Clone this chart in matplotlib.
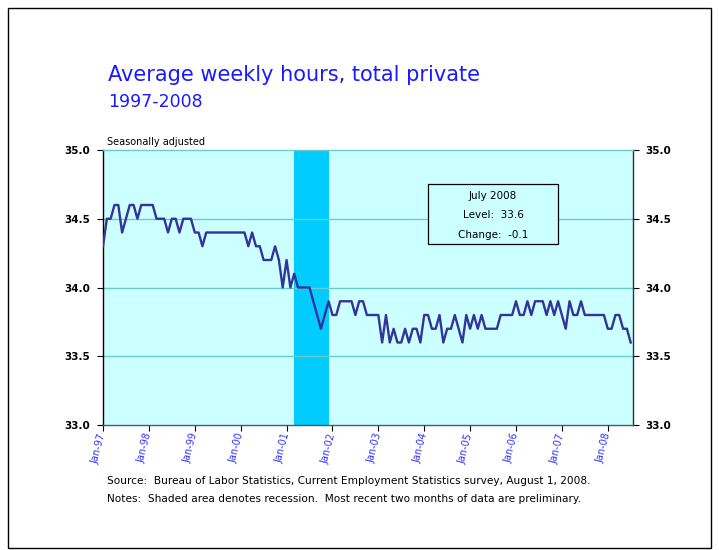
import matplotlib
matplotlib.use('Agg')
import matplotlib.pyplot as plt
from matplotlib.patches import Rectangle

# monthly average weekly hours, Jan 1997 - Jul 2008 (seasonally adjusted)
hours_1997 = [34.3, 34.5, 34.5, 34.6, 34.6, 34.4, 34.5, 34.6, 34.6, 34.5, 34.6, 34.6]
hours_1998 = [34.6, 34.6, 34.5, 34.5, 34.5, 34.4, 34.5, 34.5, 34.4, 34.5, 34.5, 34.5]
hours_1999 = [34.4, 34.4, 34.3, 34.4, 34.4, 34.4, 34.4, 34.4, 34.4, 34.4, 34.4, 34.4]
hours_2000 = [34.4, 34.4, 34.3, 34.4, 34.3, 34.3, 34.2, 34.2, 34.2, 34.3, 34.2, 34.0]
hours_2001 = [34.2, 34.0, 34.1, 34.0, 34.0, 34.0, 34.0, 33.9, 33.8, 33.7, 33.8, 33.9]
hours_2002 = [33.8, 33.8, 33.9, 33.9, 33.9, 33.9, 33.8, 33.9, 33.9, 33.8, 33.8, 33.8]
hours_2003 = [33.8, 33.6, 33.8, 33.6, 33.7, 33.6, 33.6, 33.7, 33.6, 33.7, 33.7, 33.6]
hours_2004 = [33.8, 33.8, 33.7, 33.7, 33.8, 33.6, 33.7, 33.7, 33.8, 33.7, 33.6, 33.8]
hours_2005 = [33.7, 33.8, 33.7, 33.8, 33.7, 33.7, 33.7, 33.7, 33.8, 33.8, 33.8, 33.8]
hours_2006 = [33.9, 33.8, 33.8, 33.9, 33.8, 33.9, 33.9, 33.9, 33.8, 33.9, 33.8, 33.9]
hours_2007 = [33.8, 33.7, 33.9, 33.8, 33.8, 33.9, 33.8, 33.8, 33.8, 33.8, 33.8, 33.8]
hours_2008 = [33.7, 33.7, 33.8, 33.8, 33.7, 33.7, 33.6]

hours = (hours_1997 + hours_1998 + hours_1999 + hours_2000 + hours_2001 + hours_2002
         + hours_2003 + hours_2004 + hours_2005 + hours_2006 + hours_2007 + hours_2008)
months = list(range(len(hours)))

tick_months = list(range(0, len(hours), 12))
tick_labels = ['Jan-97', 'Jan-98', 'Jan-99', 'Jan-00', 'Jan-01', 'Jan-02',
               'Jan-03', 'Jan-04', 'Jan-05', 'Jan-06', 'Jan-07', 'Jan-08']
y_ticks = [33.0, 33.5, 34.0, 34.5, 35.0]

# recession Mar 2001 - Nov 2001
recession_start = 50
recession_end = 59

box_lines = ['July 2008', 'Level:  33.6', 'Change:  -0.1']

W, H = 719, 550
fig = plt.figure(figsize=(W / 100, H / 100), dpi=100)
fig.patch.set_facecolor('white')

# outer frame
fig.patches.append(Rectangle((8 / W, 2 / H), 703 / W, 540 / H, transform=fig.transFigure,
                             fill=False, edgecolor='black', linewidth=1.0))

ax = fig.add_axes([103 / W, 1 - 425 / H, 530 / W, 275 / H])
ax.set_facecolor('#CCFFFF')

ax.axvspan(recession_start, recession_end, color='#00CCFF', zorder=1, linewidth=0)
for yv in [33.5, 34.0, 34.5]:
    ax.axhline(yv, color='#66CCCC', linewidth=1.0, zorder=2)

ax.plot(months, hours, color='#333399', linewidth=1.7, zorder=3)

ax.set_xlim(0, 138.6)
ax.set_ylim(33.0, 35.0)

ax.set_yticks(y_ticks)
ax.set_yticklabels(['%.1f' % v for v in y_ticks])
ax.tick_params(axis='y', which='both', direction='out', length=4, width=0.8,
               labelsize=7.5, left=True, right=True, labelleft=True, labelright=True, pad=5)
for lbl in ax.get_yticklabels():
    lbl.set_fontweight('bold')

ax.set_xticks(tick_months)
ax.set_xticklabels(tick_labels)
ax.tick_params(axis='x', direction='out', length=4, width=0.8, pad=2)
for lbl in ax.get_xticklabels():
    lbl.set_rotation(75)
    lbl.set_rotation_mode('anchor')
    lbl.set_ha('right')
    lbl.set_va('center')
    lbl.set_color('#3333FF')
    lbl.set_fontsize(7)

ax.spines['left'].set_color('black')
ax.spines['right'].set_color('#1a3a3a')
ax.spines['bottom'].set_color('#336666')
ax.spines['top'].set_color('#66CCCC')
for s in ax.spines.values():
    s.set_linewidth(1.0)

# titles
fig.text(108 / W, 1 - 75 / H, 'Average weekly hours, total private', color='#1a1aff',
         fontsize=15, va='center', ha='left')
fig.text(108 / W, 1 - 102 / H, '1997-2008', color='#1a1aff',
         fontsize=12.5, va='center', ha='left')
fig.text(107 / W, 1 - 142 / H, 'Seasonally adjusted', fontsize=7, va='center', ha='left')

# annotation box (axes coordinates)
bx0, bx1 = (428 - 103) / 530, (558 - 103) / 530
by0, by1 = (425 - 244) / 275, (425 - 184) / 275
ax.add_patch(Rectangle((bx0, by0), bx1 - bx0, by1 - by0, transform=ax.transAxes,
                       facecolor='#CCFFFF', edgecolor='black', linewidth=0.9, zorder=5))
for i, line in enumerate(box_lines):
    ax.text((bx0 + bx1) / 2, (425 - (196 + 19.5 * i)) / 275, line, transform=ax.transAxes,
            ha='center', va='center', fontsize=7.5, zorder=6)

fig.text(107 / W, 1 - 481 / H,
         'Source:  Bureau of Labor Statistics, Current Employment Statistics survey, August 1, 2008.',
         fontsize=7.6, va='center', ha='left')
fig.text(107 / W, 1 - 499 / H,
         'Notes:  Shaded area denotes recession.  Most recent two months of data are preliminary.',
         fontsize=7.6, va='center', ha='left')

fig.savefig('out.png', dpi=100)
